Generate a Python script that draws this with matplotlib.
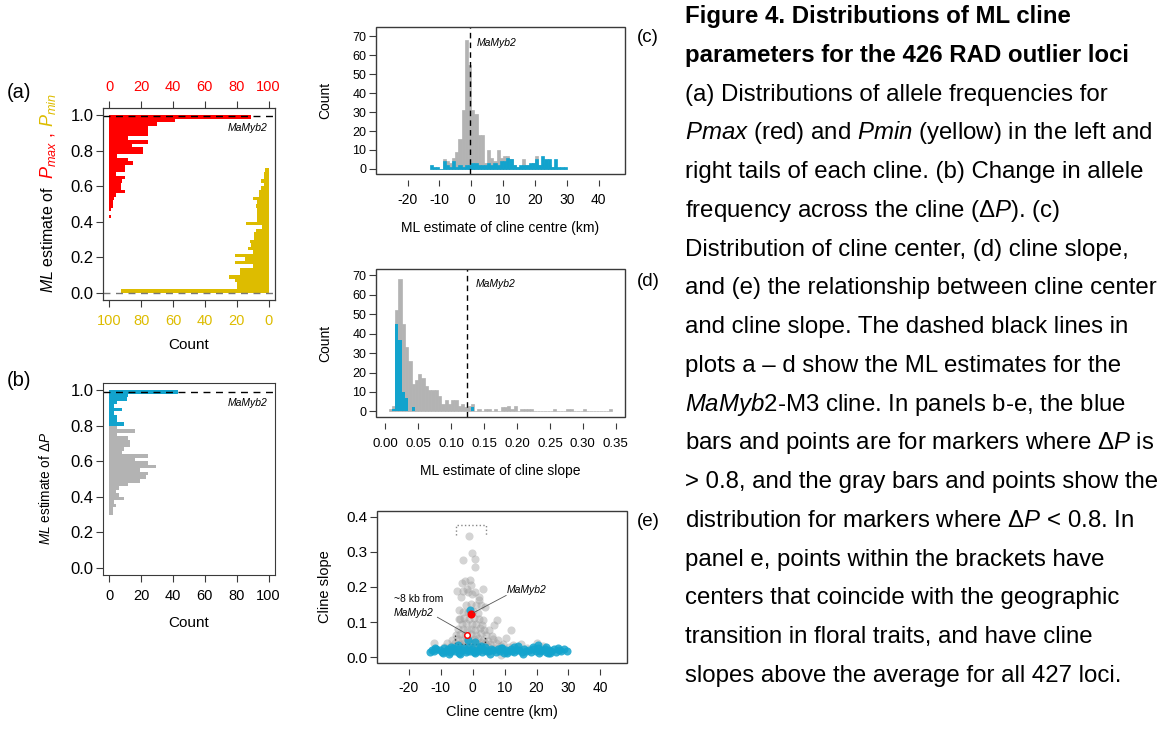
import numpy as np
import matplotlib.pyplot as plt
import matplotlib.transforms as mtransforms
from matplotlib.patches import Rectangle
from matplotlib.ticker import FormatStrFormatter

plt.rcParams['font.family'] = ['Liberation Sans', 'DejaVu Sans']
plt.rcParams['mathtext.fontset'] = 'custom'
plt.rcParams['mathtext.rm'] = 'Liberation Sans'
plt.rcParams['mathtext.it'] = 'Liberation Sans:italic'
plt.rcParams['mathtext.bf'] = 'Liberation Sans:bold'
plt.rcParams['axes.unicode_minus'] = False

# ---- data ----
# (a) Pmax / Pmin, 0.02 wide bins (lower edges)
pmax_bins = np.round(np.arange(0.42, 0.999, 0.02), 2)
pmax_counts = [1, 0, 1, 2, 2, 3, 4, 10, 7, 7, 8, 10, 4, 10, 10, 15, 12, 5, 21, 21,
               14, 24, 12, 24, 24, 24, 30, 41, 89]
pmin_bins = np.round(np.arange(0.0, 0.699, 0.02), 2)
pmin_counts = [93, 20, 20, 21, 25, 18, 18, 10, 21, 15, 21, 10, 13, 11, 12, 9, 9, 8,
               4, 14, 7, 7, 7, 7, 8, 7, 10, 6, 6, 5, 3, 5, 3, 3, 2]
pmax_mamyb2 = 0.995
pmin_mamyb2 = 0.0

# (b) delta P
dp_grey_bins = np.round(np.arange(0.30, 0.799, 0.02), 2)
dp_grey = [2, 2, 4, 3, 9, 6, 4, 6, 12, 19, 23, 24, 19, 29, 24, 16, 24, 8, 9, 13,
           13, 12, 5, 16, 5]
dp_blue_bins = np.round(np.arange(0.80, 0.999, 0.02), 2)
dp_blue = [9, 5, 5, 3, 8, 3, 5, 11, 12, 43]
dp_mamyb2 = 0.99

# (c) cline centre, 1 km bins
centre_bins = np.arange(-13, 30)
centre_grey = [0, 0, 0, 0, 5, 4, 3, 6, 9, 16, 31, 68, 55, 31, 29, 18, 18, 3, 10, 6,
               4, 10, 6, 7, 7, 5, 2, 1, 1, 5, 2, 2, 3, 7, 2, 2, 3, 2, 1, 1, 0, 0, 0]
centre_blue = [2, 1, 1, 0, 4, 2, 1, 4, 1, 2, 1, 2, 2, 3, 3, 2, 2, 2, 3, 2,
               3, 2, 4, 4, 6, 5, 2, 1, 2, 2, 2, 3, 3, 5, 2, 7, 5, 5, 1, 5, 1, 1, 1]
centre_mamyb2 = -0.5

# (d) cline slope, 0.005 bins
slope_bins = np.round(np.arange(0.005, 0.3449, 0.005), 3)
slope_grey = [1, 3, 52, 68, 45, 33, 26, 14, 16, 19,
              17, 13, 11, 11, 11, 8, 4, 6, 4, 6,
              6, 3, 4, 2, 3, 4, 0, 1, 0, 1,
              1, 0, 1, 0, 2, 2, 3, 1, 3, 0,
              1, 1, 1, 1, 0, 0, 0, 0, 0, 0,
              1, 0, 0, 0, 1, 1, 0, 0, 0, 1,
              0, 0, 0, 0, 0, 0, 0, 1]
slope_blue = [0, 1, 45, 37, 10, 7, 0, 2, 0, 0,
              0, 0, 0, 0, 0, 0, 0, 0, 0, 0,
              0, 0, 0, 0, 0, 2, 0, 0, 0, 0,
              0, 0, 0, 0, 0, 0, 0, 0, 0, 0,
              0, 0, 0, 0, 0, 0, 0, 0, 0, 0,
              0, 0, 0, 0, 0, 0, 0, 0, 0, 0,
              0, 0, 0, 0, 0, 0, 0, 0]
slope_mamyb2 = 0.124

# (e) centre vs slope
grey_pts = [(-1.0, 0.344), (-0.2, 0.296), (-3.0, 0.278), (0.6, 0.280), (0.6, 0.257),
            (-2.3, 0.217), (-0.9, 0.221), (-3.4, 0.210), (-4.9, 0.190), (-1.3, 0.186),
            (3.3, 0.193), (-3.1, 0.189), (0.8, 0.186), (1.9, 0.172), (-3.6, 0.172),
            (-4.4, 0.134), (1.9, 0.162), (3.8, 0.142), (7.7, 0.106), (6.8, 0.093),
            (11.9, 0.077), (10.6, 0.056), (-12.0, 0.042), (20.3, 0.040), (-4.4, 0.110),
            (9.0, 0.007), (-0.6, 0.205), (-1.8, 0.195), (-0.3, 0.180), (2.5, 0.150),
            (-2.0, 0.150), (-0.5, 0.152), (1.0, 0.148),
            (-3.0, 0.130), (-1.5, 0.128), (0.2, 0.132), (1.6, 0.126),
            (-4.0, 0.110), (-2.6, 0.112), (-1.2, 0.108), (0.4, 0.113), (2.0, 0.109), (3.2, 0.107),
            (-3.4, 0.095), (-2.0, 0.097), (-0.3, 0.094), (1.2, 0.096), (2.8, 0.093),
            (-4.5, 0.080), (-3.0, 0.082), (-1.8, 0.079), (-0.6, 0.081), (0.8, 0.078),
            (2.2, 0.083), (3.6, 0.079), (5.0, 0.077),
            (-5.2, 0.065), (-3.8, 0.067), (-2.4, 0.064), (-0.5, 0.066), (1.0, 0.063),
            (2.6, 0.068), (4.2, 0.064), (6.0, 0.062),
            (-6.5, 0.050), (-4.6, 0.052), (-3.2, 0.049), (-1.9, 0.053), (-0.8, 0.048),
            (0.5, 0.051), (1.8, 0.054), (3.3, 0.050), (4.8, 0.047), (6.5, 0.051), (8.0, 0.049),
            (-8.0, 0.040), (-5.5, 0.041), (-4.0, 0.038), (-2.7, 0.042), (-1.3, 0.039),
            (0.0, 0.041), (1.3, 0.038), (2.6, 0.043), (4.0, 0.040), (5.6, 0.037),
            (7.2, 0.041), (9.5, 0.038), (12.5, 0.036), (15.0, 0.037),
            (-9.0, 0.030), (-6.8, 0.031), (-5.0, 0.029), (-3.5, 0.032), (-2.0, 0.030),
            (-0.6, 0.028), (0.8, 0.031), (2.2, 0.029), (3.6, 0.032), (5.2, 0.030),
            (7.0, 0.028), (9.0, 0.031), (11.5, 0.029), (14.0, 0.030), (17.0, 0.028), (22.0, 0.031),
            (-7.5, 0.020), (-4.2, 0.022), (-1.5, 0.019), (1.5, 0.021), (4.5, 0.018), (8.0, 0.020)]
blue_pts = [(-13.4, 0.016), (-12.6, 0.022), (-12.1, 0.018), (-11.3, 0.025), (-10.2, 0.020),
            (-9.6, 0.015), (-8.9, 0.027), (-8.3, 0.019), (-7.8, 0.023), (-7.1, 0.014),
            (-6.5, 0.021), (-6.0, 0.026), (-5.4, 0.017), (-4.7, 0.024), (-4.1, 0.013),
            (-3.3, 0.020), (-2.8, 0.028), (-2.1, 0.016), (-1.6, 0.022), (-0.9, 0.019),
            (-0.3, 0.025), (0.4, 0.015), (1.1, 0.021), (1.7, 0.018), (2.3, 0.026),
            (3.0, 0.014), (3.6, 0.022), (4.4, 0.019), (5.1, 0.017), (5.7, 0.024),
            (6.4, 0.020), (7.2, 0.015), (7.9, 0.023), (8.5, 0.018), (9.3, 0.026),
            (9.9, 0.013), (10.6, 0.021), (11.2, 0.017), (11.9, 0.024), (12.4, 0.019),
            (13.1, 0.015), (13.8, 0.022), (14.6, 0.020), (15.3, 0.016), (16.1, 0.025),
            (16.8, 0.018), (17.5, 0.021), (18.3, 0.014), (19.0, 0.023), (19.7, 0.019),
            (20.4, 0.026), (21.0, 0.017), (21.8, 0.020), (22.5, 0.024), (23.1, 0.015),
            (23.9, 0.022), (24.6, 0.018), (25.4, 0.025), (26.2, 0.016), (27.0, 0.021),
            (27.8, 0.019), (28.7, 0.023), (29.4, 0.017), (-11.8, 0.028), (-9.1, 0.012),
            (-6.8, 0.030), (-3.9, 0.011), (-1.2, 0.029), (0.8, 0.012), (2.7, 0.031),
            (5.4, 0.010), (8.8, 0.028), (10.9, 0.012), (12.8, 0.030), (15.8, 0.011),
            (18.9, 0.029), (20.9, 0.013), (22.9, 0.030), (24.1, 0.012), (26.6, 0.027),
            (-7.5, 0.011), (4.0, 0.029), (14.2, 0.031), (23.5, 0.012),
            (-0.7, 0.136), (-1.5, 0.050), (0.9, 0.045), (-4.5, 0.035), (20.5, 0.035)]
mamyb2_pt = (-0.5, 0.123)
near_pt = (-1.6, 0.063)

caption = [
    ("Figure 4. Distributions of ML cline", 'bold'),
    ("parameters for the 426 RAD outlier loci", 'bold'),
    ("(a) Distributions of allele frequencies for", 'normal'),
    (r"$\mathit{Pmax}$ (red) and $\mathit{Pmin}$ (yellow) in the left and", 'normal'),
    ("right tails of each cline. (b) Change in allele", 'normal'),
    (r"frequency across the cline (Δ$\mathit{P}$). (c)", 'normal'),
    ("Distribution of cline center, (d) cline slope,", 'normal'),
    ("and (e) the relationship between cline center", 'normal'),
    ("and cline slope. The dashed black lines in", 'normal'),
    ("plots a – d show the ML estimates for the", 'normal'),
    (r"$\mathit{MaMyb2}$-M3 cline. In panels b-e, the blue", 'normal'),
    (r"bars and points are for markers where Δ$\mathit{P}$ is", 'normal'),
    ("> 0.8, and the gray bars and points show the", 'normal'),
    (r"distribution for markers where Δ$\mathit{P}$ < 0.8. In", 'normal'),
    ("panel e, points within the brackets have", 'normal'),
    ("centers that coincide with the geographic", 'normal'),
    ("transition in floral traits, and have cline", 'normal'),
    ("slopes above the average for all 427 loci.", 'normal'),
]

RED = '#FF0000'
GOLD = '#DDBC00'
BLUE = '#12A3CD'
GREY = '#B3B3B3'
FRAME = '#3A3A3A'

W, H = 1166, 733
fig = plt.figure(figsize=(W / 100, H / 100), dpi=100)


def box(l, t, r, b):
    return fig.add_axes([l / W, 1 - b / H, (r - l) / W, (b - t) / H])


def ptext(x, y, s, **kw):
    return fig.text(x / W, 1 - y / H, s, **kw)


def boxed(ax):
    # R style frame with the x axis pushed a little below it
    for sp in ax.spines.values():
        sp.set_visible(False)
    ax.spines['bottom'].set_position(('outward', 4))
    ax.add_patch(Rectangle((0, 0), 1, 1, transform=ax.transAxes, fill=False,
                           ec=FRAME, lw=1.0, clip_on=False, zorder=10))


def label_at(ax, which, px, size_px, along=0.5):
    # put the axis label centre a given number of pixels off the frame
    lab = ax.xaxis.label if which == 'x' else ax.yaxis.label
    lab.set_va('center')
    lab.set_ha('center')
    if which == 'x':
        ax.xaxis.set_label_coords(along, -px / size_px)
    else:
        ax.yaxis.set_label_coords(-px / size_px, along)


# ---------------- (a) ----------------
ax = box(103, 108, 275, 300)
ax.barh(pmax_bins, pmax_counts, height=0.02, align='edge', color=RED, lw=0)
ax.set_xlim(-4, 104)
ax.set_ylim(-0.04, 1.04)
ax.set_yticks(np.arange(0, 1.01, 0.2))
ax.yaxis.set_major_formatter(FormatStrFormatter('%.1f'))
ax2 = ax.twiny()
ax2.barh(pmin_bins, pmin_counts, height=0.02, align='edge', color=GOLD, lw=0)
ax2.set_xlim(104, -4)
ax.xaxis.tick_top()
ax2.xaxis.tick_bottom()
ax2.xaxis.set_label_position('bottom')
ax.set_xticks(range(0, 101, 20))
ax2.set_xticks(range(0, 101, 20))
ax.tick_params(axis='x', direction='out', length=5, width=0.8, color=FRAME,
               labelcolor=RED, labelsize=10.5, pad=5)
ax2.tick_params(axis='x', direction='out', length=5, width=0.8, color=FRAME,
                labelcolor=GOLD, labelsize=10.5, pad=5)
ax.tick_params(axis='y', direction='out', length=5, width=0.8, color=FRAME,
               labelsize=12, pad=2)
for sp in list(ax.spines.values()) + list(ax2.spines.values()):
    sp.set_color(FRAME)
ax2.axhline(pmax_mamyb2, color='black', ls=(0, (5, 4)), lw=1.0, clip_on=False)
ax2.axhline(pmin_mamyb2, color='#777777', ls=(0, (5, 4)), lw=1.0)
ax.text(99, 0.925, 'MaMyb2', style='italic', fontsize=7.5, ha='right', va='center')
ax2.set_xlabel('Count', fontsize=11)
label_at(ax2, 'x', 45, 192)

# ---------------- (b) ----------------
bx = box(103, 383, 275, 575)
bx.barh(dp_grey_bins, dp_grey, height=0.02, align='edge', color=GREY, lw=0)
bx.barh(dp_blue_bins, dp_blue, height=0.02, align='edge', color=BLUE, lw=0)
bx.set_xlim(-4, 104)
bx.set_ylim(-0.04, 1.04)
bx.set_yticks(np.arange(0, 1.01, 0.2))
bx.yaxis.set_major_formatter(FormatStrFormatter('%.1f'))
bx.set_xticks(range(0, 101, 20))
bx.tick_params(axis='x', direction='out', length=5, width=0.8, color=FRAME,
               labelsize=10.5, pad=5)
bx.tick_params(axis='y', direction='out', length=5, width=0.8, color=FRAME,
               labelsize=12, pad=2)
for sp in bx.spines.values():
    sp.set_color(FRAME)
bx.axhline(dp_mamyb2, color='black', ls=(0, (5, 4)), lw=1.0)
bx.text(99, 0.93, 'MaMyb2', style='italic', fontsize=7.5, ha='right', va='center')
bx.set_xlabel('Count', fontsize=11)
label_at(bx, 'x', 48, 192)
bx.set_ylabel(r'$\mathit{ML}$ estimate of $\Delta P$', fontsize=9.8)
label_at(bx, 'y', 58, 172, along=0.45)

# ---------------- (c) ----------------
cx = box(376, 27, 625, 174)
cx.bar(centre_bins, centre_grey, width=1, align='edge', color=GREY, ec=GREY, lw=0.5)
cx.bar(centre_bins, centre_blue, width=1, align='edge', color=BLUE, ec=BLUE, lw=0.5)
cx.set_xlim(-29.9, 48.3)
cx.set_ylim(-2.7, 75)
cx.set_xticks(range(-20, 41, 10))
cx.set_yticks(range(0, 71, 10))
boxed(cx)
cx.tick_params(axis='x', direction='out', length=4, width=0.8, color=FRAME,
               labelsize=10, pad=6)
cx.tick_params(axis='y', direction='out', length=5, width=0.8, color=FRAME,
               labelsize=9, pad=2)
cx.axvline(centre_mamyb2, color='black', ls=(0, (4, 3)), lw=1.0)
cx.text(1.7, 66.5, 'MaMyb2', style='italic', fontsize=7.5, ha='left', va='center')
cx.set_xlabel('ML estimate of cline centre (km)', fontsize=10)
label_at(cx, 'x', 54, 147)
cx.set_ylabel('Count', fontsize=10)
label_at(cx, 'y', 51, 249)

# ---------------- (d) ----------------
dx = box(376, 269, 625, 417)
dx.bar(slope_bins, slope_grey, width=0.005, align='edge', color=GREY, ec=GREY, lw=0.5)
dx.bar(slope_bins, slope_blue, width=0.005, align='edge', color=BLUE, lw=0)
dx.set_xlim(-0.014, 0.364)
dx.set_ylim(-2.9, 73.3)
dx.set_xticks(np.arange(0, 0.351, 0.05))
dx.xaxis.set_major_formatter(FormatStrFormatter('%.2f'))
dx.set_yticks(range(0, 71, 10))
boxed(dx)
dx.tick_params(axis='x', direction='out', length=4, width=0.8, color=FRAME,
               labelsize=9.5, pad=7)
dx.tick_params(axis='y', direction='out', length=5, width=0.8, color=FRAME,
               labelsize=9, pad=2)
dx.axvline(slope_mamyb2, color='black', ls=(0, (4, 3)), lw=1.0)
dx.text(0.1375, 65.5, 'MaMyb2', style='italic', fontsize=7.5, ha='left', va='center')
dx.set_xlabel('ML estimate of cline slope', fontsize=10)
label_at(dx, 'x', 54, 148)
dx.set_ylabel('Count', fontsize=10)
label_at(dx, 'y', 51, 249)

# ---------------- (e) ----------------
ex = box(377, 511, 627, 663)
gx, gy = zip(*grey_pts)
bxs, bys = zip(*blue_pts)
ex.scatter(gx, gy, s=34, color='#A0A0A0', alpha=0.45, lw=0, zorder=2)
ex.scatter(bxs, bys, s=34, color=BLUE, alpha=0.85, lw=0, zorder=3)
ex.scatter(*mamyb2_pt, s=34, color=RED, lw=0, zorder=5)
ex.scatter(*near_pt, s=16, facecolor='white', edgecolor=RED, lw=1.1, zorder=5)
# brackets
ex.plot([-5.1, -5.1, 4.2, 4.2], [0.347, 0.375, 0.375, 0.347], color='#888888',
        ls=':', lw=1.0)
ex.plot([-5.5, -5.5, 3.8, 3.8], [0.065, 0.038, 0.038, 0.065], color='#333333',
        ls=':', lw=1.0)
# annotations
ex.plot([10.5, 0.3], [0.176, 0.127], color='#555555', lw=0.6, zorder=6)
ex.plot([-11.0, -2.3], [0.114, 0.069], color='#555555', lw=0.6, zorder=6)
ex.text(17.0, 0.192, 'MaMyb2', style='italic', fontsize=7.5, ha='center', va='center')
ex.text(-17.0, 0.166, '~8 kb from', fontsize=7.5, ha='center', va='center')
ex.text(-18.5, 0.126, 'MaMyb2', style='italic', fontsize=7.5, ha='center', va='center')
ex.set_xlim(-29.9, 48.3)
ex.set_ylim(-0.016, 0.416)
ex.set_xticks(range(-20, 41, 10))
ex.set_yticks(np.arange(0, 0.41, 0.1))
ex.yaxis.set_major_formatter(FormatStrFormatter('%.1f'))
boxed(ex)
ex.tick_params(axis='x', direction='out', length=4, width=0.8, color=FRAME,
               labelsize=10, pad=5)
ex.tick_params(axis='y', direction='out', length=5, width=0.8, color=FRAME,
               labelsize=11, pad=2)
ex.set_xlabel('Cline centre (km)', fontsize=10.5)
label_at(ex, 'x', 49, 152)
ex.set_ylabel('Cline slope', fontsize=10.5)
label_at(ex, 'y', 52, 250)

# ---------------- multi-coloured y label of (a) ----------------
renderer = fig.canvas.get_renderer()
ident = mtransforms.IdentityTransform()
ylab_x, ylab_y = 53, H - 293
for s, col, size, gap in [(r'$\mathit{ML}$ estimate of', 'black', 11.5, 7),
                          (r'$P_{max}$ ,', RED, 13, 5),
                          (r'$P_{min}$', GOLD, 13, 0)]:
    t = fig.text(ylab_x, ylab_y, s, transform=ident, rotation=90,
                 rotation_mode='anchor', ha='left', va='baseline',
                 fontsize=size, color=col)
    ylab_y = t.get_window_extent(renderer).y1 + gap

# ---------------- panel tags ----------------
ptext(7, 93, '(a)', fontsize=14.5, va='center', ha='left')
ptext(7, 381, '(b)', fontsize=14.5, va='center', ha='left')
ptext(637, 38, '(c)', fontsize=13.5, va='center', ha='left')
ptext(637, 281, '(d)', fontsize=13.5, va='center', ha='left')
ptext(637, 522, '(e)', fontsize=13.5, va='center', ha='left')

# ---------------- caption ----------------
for i, (line, weight) in enumerate(caption):
    ptext(685, 23.2 + 38.75 * i, line, fontsize=17.3, fontweight=weight,
          ha='left', va='baseline')

fig.savefig('out.png', dpi=100)
